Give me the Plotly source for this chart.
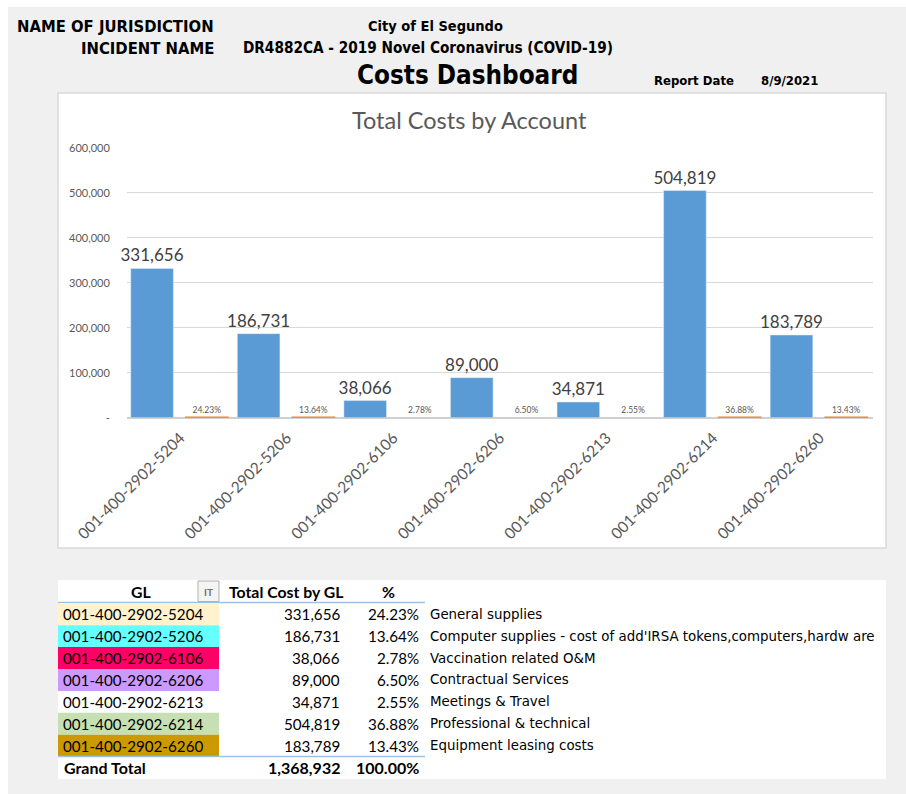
import plotly.graph_objects as go

# ---------------- data ----------------
gl_codes = ["001-400-2902-5204", "001-400-2902-5206", "001-400-2902-6106",
            "001-400-2902-6206", "001-400-2902-6213", "001-400-2902-6214",
            "001-400-2902-6260"]
costs = [331656, 186731, 38066, 89000, 34871, 504819, 183789]
pcts = [0.2423, 0.1364, 0.0278, 0.0650, 0.0255, 0.3688, 0.1343]
descriptions = ["General supplies",
                "Computer supplies - cost of add'IRSA tokens,computers,hardw are",
                "Vaccination related O&M",
                "Contractual Services",
                "Meetings & Travel",
                "Professional & technical",
                "Equipment leasing costs"]
y_ticks = [0, 100000, 200000, 300000, 400000, 500000, 600000]
grand_total = 1368932
grand_pct = 1.0

jurisdiction = "City of El Segundo"
incident = "DR4882CA - 2019 Novel Coronavirus (COVID-19)"
report_date = "8/9/2021"

# ---------------- styles ----------------
W, H = 906, 794
row_colors = ["#FFF2CC", "#66FFFF", "#FF0066", "#CC99FF", "#FFFFFF", "#C6E0B4", "#CC9900"]
BLUE = "#5B9BD5"
ORANGE = "#ED7D31"
GRAY_TXT = "#595959"
HEAD_FONT = "Liberation Sans Narrow, DejaVu Sans Condensed, Arial Narrow, sans-serif"
CAL = "Lato, Carlito, Calibri, sans-serif"
DESC_FONT = "DejaVu Sans, Tahoma, sans-serif"


def px(x):
    return x / W


def py(y):
    return 1 - y / H


shapes = []
annotations = []

# page background
shapes.append(dict(type="rect", xref="paper", yref="paper", x0=px(8), x1=px(W), y0=py(H), y1=py(7),
                   fillcolor="#F0F0F0", line=dict(width=0), layer="below"))
# chart box
shapes.append(dict(type="rect", xref="paper", yref="paper", x0=px(58), x1=px(886), y0=py(548), y1=py(93),
                   fillcolor="white", line=dict(color="#D9D9D9", width=1.5), layer="below"))
# table box
shapes.append(dict(type="rect", xref="paper", yref="paper", x0=px(58), x1=px(886), y0=py(779), y1=py(580),
                   fillcolor="white", line=dict(width=0), layer="below"))


def ann(x, y, text, size, color="black", family=CAL, xanchor="left", bold=False):
    if bold:
        text = "<b>" + text + "</b>"
    annotations.append(dict(xref="paper", yref="paper", x=px(x), y=py(y), text=text, showarrow=False,
                            xanchor=xanchor, yanchor="middle",
                            font=dict(size=size, color=color, family=family)))


# ---------------- header ----------------
ann(216, 26, "NAME OF JURISDICTION", 16.5, family=HEAD_FONT, xanchor="right", bold=True)
ann(216, 48, "INCIDENT NAME", 16.5, family=HEAD_FONT, xanchor="right", bold=True)
ann(366, 26, jurisdiction, 14.5, family=HEAD_FONT, bold=True)
ann(241, 48, incident, 15.2, family=HEAD_FONT, bold=True)
ann(355, 75, "Costs Dashboard", 25.8, family=HEAD_FONT, bold=True)
ann(652, 81, "Report Date", 13, family=HEAD_FONT, bold=True)
ann(759, 81, report_date, 13, family=HEAD_FONT, bold=True)

# chart title
ann(469, 120, "Total Costs by Account", 23.5, color=GRAY_TXT, xanchor="center")

# ---------------- table ----------------
row_h = 21.9
row_top = 603.3
# header
ann(141, 591.5, "GL", 15.8, bold=True, xanchor="center")
ann(286, 591.5, "Total Cost by GL", 15.8, bold=True, xanchor="center")
ann(388, 591.5, "%", 15.8, bold=True, xanchor="center")
shapes.append(dict(type="rect", xref="paper", yref="paper", x0=px(198), x1=px(219), y0=py(601.5), y1=py(581),
                   fillcolor="#F4F4F4", line=dict(color="#B0B0B0", width=1)))
ann(208.5, 591.5, "IT", 10, color="#707070", xanchor="center", bold=True)
shapes.append(dict(type="line", xref="paper", yref="paper", x0=px(58), x1=px(425), y0=py(602.5), y1=py(602.5),
                   line=dict(color="#9BC2E6", width=1.5)))
for i, (code, c, p, d, col) in enumerate(zip(gl_codes, costs, pcts, descriptions, row_colors)):
    y0 = row_top + i * row_h
    yc = y0 + row_h / 2
    shapes.append(dict(type="rect", xref="paper", yref="paper", x0=px(58), x1=px(219), y0=py(y0 + row_h),
                       y1=py(y0), fillcolor=col, line=dict(width=0)))
    ann(61, yc, code, 15.2)
    ann(342, yc, f"{c:,}", 15.2, xanchor="right")
    ann(421, yc, f"{p:.2%}", 15.2, xanchor="right")
    ann(428, yc, d, 13.4, family=DESC_FONT)
gt_top = row_top + 7 * row_h
shapes.append(dict(type="line", xref="paper", yref="paper", x0=px(58), x1=px(425), y0=py(gt_top), y1=py(gt_top),
                   line=dict(color="#9BC2E6", width=1.5)))
ann(62, gt_top + 11, "Grand Total", 16, bold=True)
ann(342, gt_top + 11, f"{grand_total:,}", 16, bold=True, xanchor="right")
ann(421, gt_top + 11, f"{grand_pct:.2%}", 16, bold=True, xanchor="right")

# ---------------- chart ----------------
fig = go.Figure()
fig.add_trace(go.Bar(x=gl_codes, y=costs, marker=dict(color=BLUE), offset=-0.465, width=0.40,
                     text=[f"{v:,}" for v in costs], textposition="outside", cliponaxis=False,
                     constraintext="none",
                     textfont=dict(size=17, color="#404040", family=CAL), hoverinfo="skip"))
fig.add_trace(go.Bar(x=gl_codes, y=pcts,
                     marker=dict(color=ORANGE,
                                 line=dict(color=[ORANGE if p > 0.1 else "rgba(0,0,0,0)" for p in pcts],
                                           width=2.5)),
                     offset=0.044, width=0.41,
                     text=[f"{p:.2%}" for p in pcts], textposition="outside", cliponaxis=False,
                     constraintext="none",
                     textfont=dict(size=8.5, color=GRAY_TXT, family=CAL), hoverinfo="skip"))

fig.update_layout(
    width=W, height=H, autosize=False, margin=dict(l=0, r=0, t=0, b=0, autoexpand=False),
    paper_bgcolor="white", plot_bgcolor="rgba(0,0,0,0)",
    barmode="overlay", showlegend=False,
    shapes=shapes, annotations=annotations,
    xaxis=dict(domain=[px(127), px(873)], range=[-0.5, 6.5], type="category", automargin=False,
               tickangle=-45, tickfont=dict(size=15.5, color=GRAY_TXT, family=CAL),
               showgrid=False, showline=False, zeroline=False, ticks="outside", ticklen=4,
               tickcolor="rgba(0,0,0,0)"),
    yaxis=dict(domain=[py(417.7), py(147.7)], range=[0, 600000], tickvals=y_ticks, automargin=False,
               ticktext=["-" if v == 0 else f"{v:,}" for v in y_ticks],
               tickfont=dict(size=11, color=GRAY_TXT, family=CAL),
               showgrid=True, gridcolor="#D9D9D9", gridwidth=1, zeroline=True,
               zerolinecolor="#D0D0D0", zerolinewidth=1.5,
               ticks="outside", ticklen=14, tickcolor="rgba(0,0,0,0)"),
)

fig.write_html("out.html", config={"displayModeBar": False},
               post_script="document.body.style.margin='0';document.body.style.overflow='hidden';")
